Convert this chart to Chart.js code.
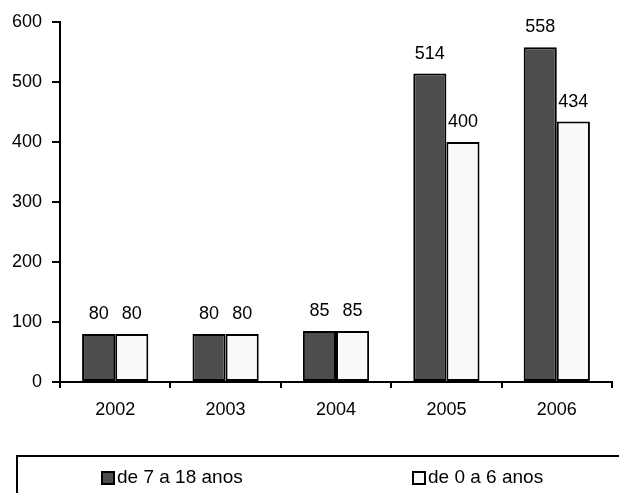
<!DOCTYPE html>
<html>
<head>
<meta charset="utf-8">
<script src="https://cdn.jsdelivr.net/npm/chart.js@4/dist/chart.umd.min.js"></script>
<style>
  html, body { margin: 0; padding: 0; background: #ffffff; }
  #wrap { width: 619px; height: 493px; position: relative; }
</style>
</head>
<body>
<div id="wrap"><canvas id="chart" width="619" height="493"></canvas></div>
<script>
// Chart data
const years = ['2002', '2003', '2004', '2005', '2006'];
const olderKids = [80, 80, 85, 514, 558];   // de 7 a 18 anos
const youngKids = [80, 80, 85, 400, 434];   // de 0 a 6 anos
const yTicks = [0, 100, 200, 300, 400, 500, 600];

const FONT = "'Liberation Sans', Arial, sans-serif";

// Value labels above each bar
const valueLabels = {
    id: 'valueLabels',
    afterDatasetsDraw(chart) {
        const ctx = chart.ctx;
        ctx.save();
        ctx.font = '18px ' + FONT;
        ctx.fillStyle = '#000';
        ctx.textAlign = 'center';
        ctx.textBaseline = 'alphabetic';
        chart.data.datasets.forEach((ds, i) => {
            chart.getDatasetMeta(i).data.forEach((bar, j) => {
                ctx.fillText(ds.data[j], bar.x, bar.y - 15);
            });
        });
        ctx.restore();
    }
};

// Boxed legend at the bottom
const boxLegend = {
    id: 'boxLegend',
    afterDraw(chart) {
        const ctx = chart.ctx;
        ctx.save();
        ctx.strokeStyle = '#000';
        ctx.lineWidth = 2;
        ctx.strokeRect(17, 456, 640, 60);

        const itemX = [102, 413];
        ctx.font = '19px ' + FONT;
        ctx.textBaseline = 'middle';
        ctx.textAlign = 'left';
        chart.data.datasets.forEach((ds, i) => {
            const x = itemX[i];
            ctx.fillStyle = ds.backgroundColor;
            ctx.fillRect(x, 472, 12, 12);
            ctx.lineWidth = 2;
            ctx.strokeRect(x, 472, 12, 12);
            ctx.fillStyle = '#000';
            ctx.fillText(ds.label, x + 15, 478);
        });
        ctx.restore();
    }
};

new Chart(document.getElementById('chart'), {
    type: 'bar',
    data: {
        labels: years,
        datasets: [{
            label: 'de 7 a 18 anos',
            data: olderKids,
            backgroundColor: '#4d4d4d',
            borderColor: '#000',
            borderWidth: 2,
            borderSkipped: false
        }, {
            label: 'de 0 a 6 anos',
            data: youngKids,
            backgroundColor: '#f9f9f9',
            borderColor: '#000',
            borderWidth: 2,
            borderSkipped: false
        }]
    },
    options: {
        responsive: false,
        animation: false,
        devicePixelRatio: 1,
        layout: {
            padding: { top: 22, right: 7, left: 0, bottom: 0 }
        },
        datasets: {
            bar: { barPercentage: 1, categoryPercentage: 0.6 }
        },
        scales: {
            x: {
                afterFit(scale) { scale.height = 111; },
                grid: {
                    offset: true,
                    drawOnChartArea: false,
                    tickLength: 6,
                    color: '#000',
                    lineWidth: 2
                },
                border: { display: true, color: '#000', width: 2 },
                ticks: {
                    color: '#000',
                    padding: 11,
                    font: { family: FONT, size: 18 }
                }
            },
            y: {
                min: 0,
                max: 600,
                afterFit(scale) { scale.width = 60; },
                afterBuildTicks(scale) {
                    scale.ticks = yTicks.map(v => ({ value: v }));
                },
                grid: {
                    drawOnChartArea: false,
                    tickLength: 8,
                    color: '#000',
                    lineWidth: 2
                },
                border: { display: true, color: '#000', width: 2 },
                ticks: {
                    color: '#000',
                    padding: 10,
                    font: { family: FONT, size: 18 }
                }
            }
        },
        plugins: {
            legend: { display: false },
            tooltip: { enabled: false }
        }
    },
    plugins: [valueLabels, boxLegend]
});
</script>
</body>
</html>
